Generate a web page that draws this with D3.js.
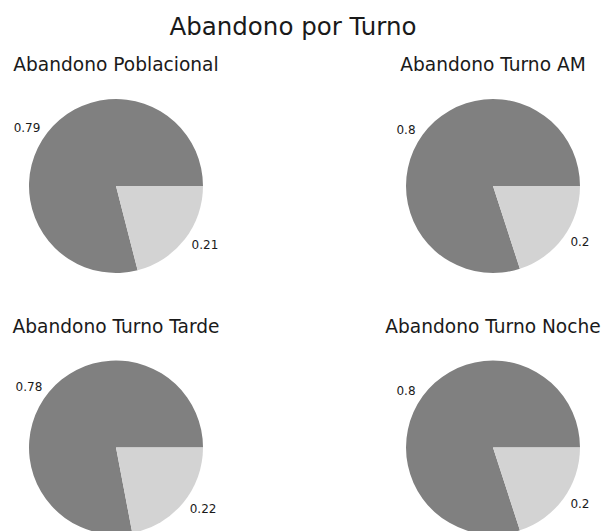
<!DOCTYPE html>
<html>
<head>
<meta charset="utf-8">
<script src="https://cdn.jsdelivr.net/npm/d3@7"></script>
<style>
  html, body { margin: 0; padding: 0; background: #fff; }
  svg text { font-family: "DejaVu Sans", sans-serif; fill: #1a1a1a; }
</style>
</head>
<body>
<svg id="chart" width="603" height="531"></svg>
<script>
// Dropout shares per shift: [abandon, stay]
const titles = ["Abandono Poblacional", "Abandono Turno AM", "Abandono Turno Tarde", "Abandono Turno Noche"];
const poblacional = [0.79, 0.21];
const turnoAM = [0.8, 0.2];
const turnoTarde = [0.78, 0.22];
const turnoNoche = [0.8, 0.2];
const sliceColors = ["#808080", "#d3d3d3"];

const series = [poblacional, turnoAM, turnoTarde, turnoNoche];

const svg = d3.select("#chart");

svg.append("text")
  .attr("x", 293).attr("y", 35)
  .attr("text-anchor", "middle")
  .style("font-size", "24.5px")
  .text("Abandono por Turno");

// 2x2 panel grid
const colX = d3.scaleOrdinal().domain([0, 1]).range([116, 493]);
const rowY = d3.scaleOrdinal().domain([0, 1]).range([186, 447.5]);
const radius = 87;

// start at 3 o'clock and run counter-clockwise
const pie = d3.pie().sort(null).value(d => d)
  .startAngle(Math.PI / 2).endAngle(Math.PI / 2 - 2 * Math.PI);
const arc = d3.arc().innerRadius(0).outerRadius(radius);

series.forEach((vals, i) => {
  const cx = colX(i % 2), cy = rowY(Math.floor(i / 2));
  const g = svg.append("g").attr("transform", `translate(${cx},${cy})`);

  svg.append("text")
    .attr("x", cx).attr("y", cy - 115)
    .attr("text-anchor", "middle")
    .style("font-size", "18.6px")
    .text(titles[i]);

  const arcs = pie(vals);
  g.selectAll("path").data(arcs).join("path")
    .attr("d", arc)
    .attr("fill", (d, j) => sliceColors[j]);

  g.selectAll("text.lbl").data(arcs).join("text")
    .attr("class", "lbl")
    .each(function (d) {
      const mid = (d.startAngle + d.endAngle) / 2;
      const x = Math.sin(mid) * radius * 1.1;
      const y = -Math.cos(mid) * radius * 1.1;
      d3.select(this)
        .attr("x", x).attr("y", y)
        .attr("dy", "0.35em")
        .attr("text-anchor", x < 0 ? "end" : "start");
    })
    .style("font-size", "12px")
    .text(d => String(d.data));
});
</script>
</body>
</html>
